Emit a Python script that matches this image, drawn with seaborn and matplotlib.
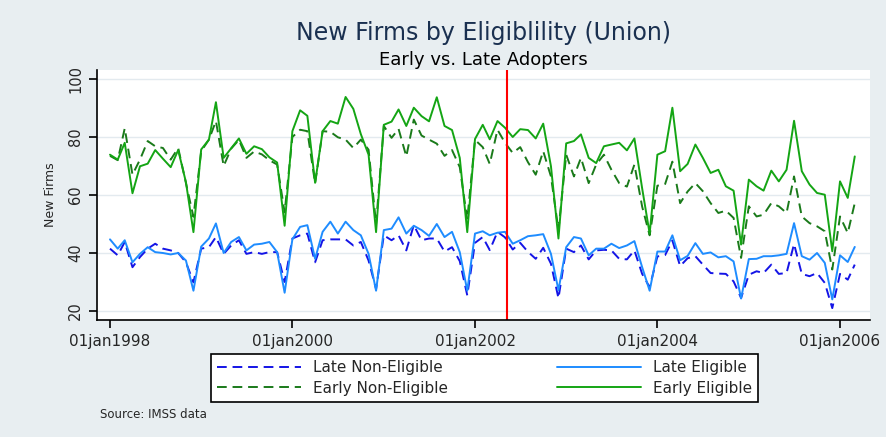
import pandas as pd
import numpy as np
import matplotlib
matplotlib.use('Agg')
import matplotlib.pyplot as plt
import seaborn as sns
from matplotlib.lines import Line2D

# monthly series, jan1998 - mar2006
dates = pd.date_range('1998-01-01', periods=99, freq='MS')

late_nonelig = [41.5, 39.2, 43.8, 35.1, 38.6, 41.5, 43.2, 41.5, 40.9, 40.0, 36.8, 29.9,
                41.5, 42.0, 45.5, 39.7, 42.6, 44.4, 39.7, 40.3, 39.7, 40.3, 40.3, 30.0,
                45.0, 46.1, 46.7, 36.8, 44.4, 44.7, 44.7, 44.7, 42.6, 43.8, 37.4, 27.6,
                46.1, 44.4, 46.1, 40.9, 49.6, 44.4, 45.0, 45.0, 40.5, 42.0, 37.2, 25.4,
                43.5, 45.5, 41.0, 47.3, 45.4, 41.2, 43.5, 40.4, 38.0, 41.8, 36.3, 24.4,
                41.5, 40.3, 42.6, 37.8, 40.9, 41.1, 40.9, 38.0, 37.8, 40.9, 32.8, 28.2,
                38.8, 39.3, 44.3, 35.5, 38.2, 38.9, 36.0, 33.1, 32.9, 32.8, 30.2, 24.5,
                32.5, 33.7, 33.1, 36.0, 32.8, 33.1, 43.1, 32.8, 32.0, 33.1, 29.7, 21.0,
                32.8, 30.8, 36.0]

late_elig = [44.7, 41.5, 44.4, 36.8, 39.7, 42.0, 40.3, 40.0, 39.5, 40.0, 37.4, 27.0,
             42.2, 45.0, 50.2, 40.0, 43.8, 45.5, 40.9, 42.9, 43.2, 43.8, 40.3, 26.3,
             44.7, 49.0, 49.6, 38.0, 47.3, 50.8, 46.7, 50.8, 47.9, 46.1, 39.7, 27.0,
             47.9, 48.4, 52.3, 46.7, 49.4, 47.9, 45.9, 50.0, 45.5, 47.3, 40.3, 27.0,
             46.7, 47.5, 46.1, 47.0, 47.3, 43.2, 44.4, 45.8, 46.1, 46.5, 39.7, 27.2,
             42.0, 45.5, 45.0, 39.2, 41.5, 41.5, 43.2, 41.7, 42.6, 44.1, 35.1, 27.0,
             40.5, 40.5, 46.1, 37.5, 39.0, 43.4, 39.7, 40.2, 38.5, 38.9, 37.1, 24.3,
             37.9, 38.0, 38.9, 38.9, 39.2, 39.7, 50.3, 38.9, 37.7, 40.0, 36.6, 24.0,
             39.2, 36.9, 42.1]

early_nonelig = [73.5, 72.0, 83.0, 67.0, 72.2, 78.6, 76.8, 76.2, 72.2, 76.2, 64.1, 52.5,
                 75.1, 79.1, 85.5, 70.0, 76.0, 79.0, 72.8, 75.0, 74.0, 72.0, 70.5, 54.0,
                 80.0, 82.5, 82.0, 64.0, 82.0, 81.8, 79.9, 79.1, 76.2, 79.1, 75.6, 50.0,
                 83.8, 79.7, 82.8, 73.3, 86.0, 80.5, 79.1, 77.7, 73.5, 75.5, 69.6, 51.5,
                 79.0, 76.5, 70.7, 82.5, 78.0, 74.5, 76.5, 71.3, 67.0, 75.1, 66.4, 47.9,
                 73.9, 66.4, 72.8, 64.1, 70.5, 73.9, 68.7, 64.1, 62.9, 70.5, 56.0, 46.1,
                 63.2, 63.8, 71.5, 57.2, 61.2, 64.1, 61.3, 57.2, 53.8, 54.6, 52.1, 38.3,
                 56.1, 52.6, 53.2, 57.2, 56.1, 53.8, 66.4, 52.6, 50.3, 49.2, 47.5, 34.3,
                 52.6, 46.9, 57.2]

early_elig = [73.9, 72.2, 78.0, 60.6, 69.9, 70.8, 75.5, 72.5, 69.6, 75.5, 64.4, 47.2,
              75.7, 79.1, 92.0, 72.8, 76.1, 79.5, 74.2, 76.8, 75.8, 73.0, 71.2, 49.4,
              82.0, 89.2, 87.3, 64.2, 82.0, 85.5, 84.6, 93.8, 89.7, 81.0, 73.9, 47.2,
              84.2, 85.3, 89.5, 83.8, 90.1, 87.2, 85.4, 93.7, 83.8, 82.4, 72.8, 47.2,
              79.3, 84.2, 79.2, 85.5, 83.2, 80.0, 82.7, 82.4, 79.5, 84.6, 69.9, 45.0,
              77.8, 78.6, 80.9, 72.8, 71.0, 76.8, 77.4, 78.0, 75.4, 79.5, 62.3, 46.7,
              73.9, 75.1, 90.1, 68.2, 70.7, 77.4, 72.8, 67.6, 68.7, 63.0, 61.5, 42.9,
              65.3, 63.0, 61.5, 68.4, 64.7, 68.7, 85.6, 68.2, 63.6, 60.7, 60.1, 40.6,
              64.7, 59.0, 73.3]

names = ['Late Non-Eligible', 'Late Eligible', 'Early Non-Eligible', 'Early Eligible']
tick_dates = pd.to_datetime(['1998-01-01', '2000-01-01', '2002-01-01', '2004-01-01', '2006-01-01'])
tick_labels = ['01jan1998', '01jan2000', '01jan2002', '01jan2004', '01jan2006']
y_ticks = [20, 40, 60, 80, 100]
cutoff = pd.Timestamp('2002-05-08')

df = pd.DataFrame({
    'date': np.tile(dates, 4),
    'firms': late_nonelig + late_elig + early_nonelig + early_elig,
    'series': np.repeat(names, len(dates)),
})

colors = {'Late Non-Eligible': '#1414e6', 'Late Eligible': '#1e8cff',
          'Early Non-Eligible': '#1a7a1a', 'Early Eligible': '#14a514'}
dashes = {'Late Non-Eligible': (5, 3), 'Late Eligible': '',
          'Early Non-Eligible': (5, 3), 'Early Eligible': ''}

bg = '#e8eef1'
sns.set_style('white')
plt.rcParams['font.family'] = ['DejaVu Sans']

fig = plt.figure(figsize=(8.86, 4.37), dpi=100, facecolor=bg)
ax = fig.add_axes([97/886, 1-320/437, (870-97)/886, (320-70)/437])
ax.set_facecolor('white')

for y in y_ticks:
    ax.axhline(y, color='#e3eaef', lw=1.0, zorder=0)

sns.lineplot(data=df, x='date', y='firms', hue='series', style='series',
             palette=colors, dashes=dashes, lw=1.4, legend=False, ax=ax)
ax.axvline(cutoff, color='red', lw=1.5)

ax.set_xlim(pd.Timestamp('1997-11-10'), pd.Timestamp('2006-05-01'))
ax.set_ylim(16.9, 103.1)
ax.set_xticks(tick_dates)
ax.set_xticklabels(tick_labels, fontsize=11)
ax.set_yticks(y_ticks)
ax.set_yticklabels([str(v) for v in y_ticks], rotation=90, va='center', fontsize=10.5)
ax.tick_params(axis='both', direction='out', length=6, width=1.2, color='black', pad=4,
               bottom=True, left=True)
ax.set_xlabel('')
ax.set_ylabel('New Firms', fontsize=9, labelpad=8)

for s in ['top', 'right']:
    ax.spines[s].set_visible(False)
for s in ['left', 'bottom']:
    ax.spines[s].set_color('black')
    ax.spines[s].set_linewidth(1.2)

xc = (97 + 870) / 2 / 886
fig.text(xc, 1-33/437, 'New Firms by Eligiblility (Union)', ha='center', va='center',
         fontsize=17, color='#1a3050')
fig.text(xc, 1-60/437, 'Early vs. Late Adopters', ha='center', va='center',
         fontsize=13, color='black')

handles = [Line2D([], [], color=colors[n], lw=1.4,
                  dashes=dashes[n] if dashes[n] else (None, None)) for n in names]
# column-wise fill: left column = non-eligible, right column = eligible
order = [0, 2, 1, 3]
leg = fig.legend([handles[i] for i in order], [names[i] for i in order], ncol=2,
                 loc='center', bbox_to_anchor=(203/886, 1-404/437, (766-203)/886, 52/437),
                 mode='expand', fontsize=11, handlelength=5.5, frameon=True,
                 fancybox=False, edgecolor='black', facecolor='white', framealpha=1,
                 borderpad=0.4, labelspacing=0.35, columnspacing=2.0)
leg.get_frame().set_linewidth(1.2)

fig.text(100/886, 1-415/437, 'Source: IMSS data', ha='left', va='center', fontsize=8.5)

fig.savefig('out.png', dpi=100, facecolor=bg)
